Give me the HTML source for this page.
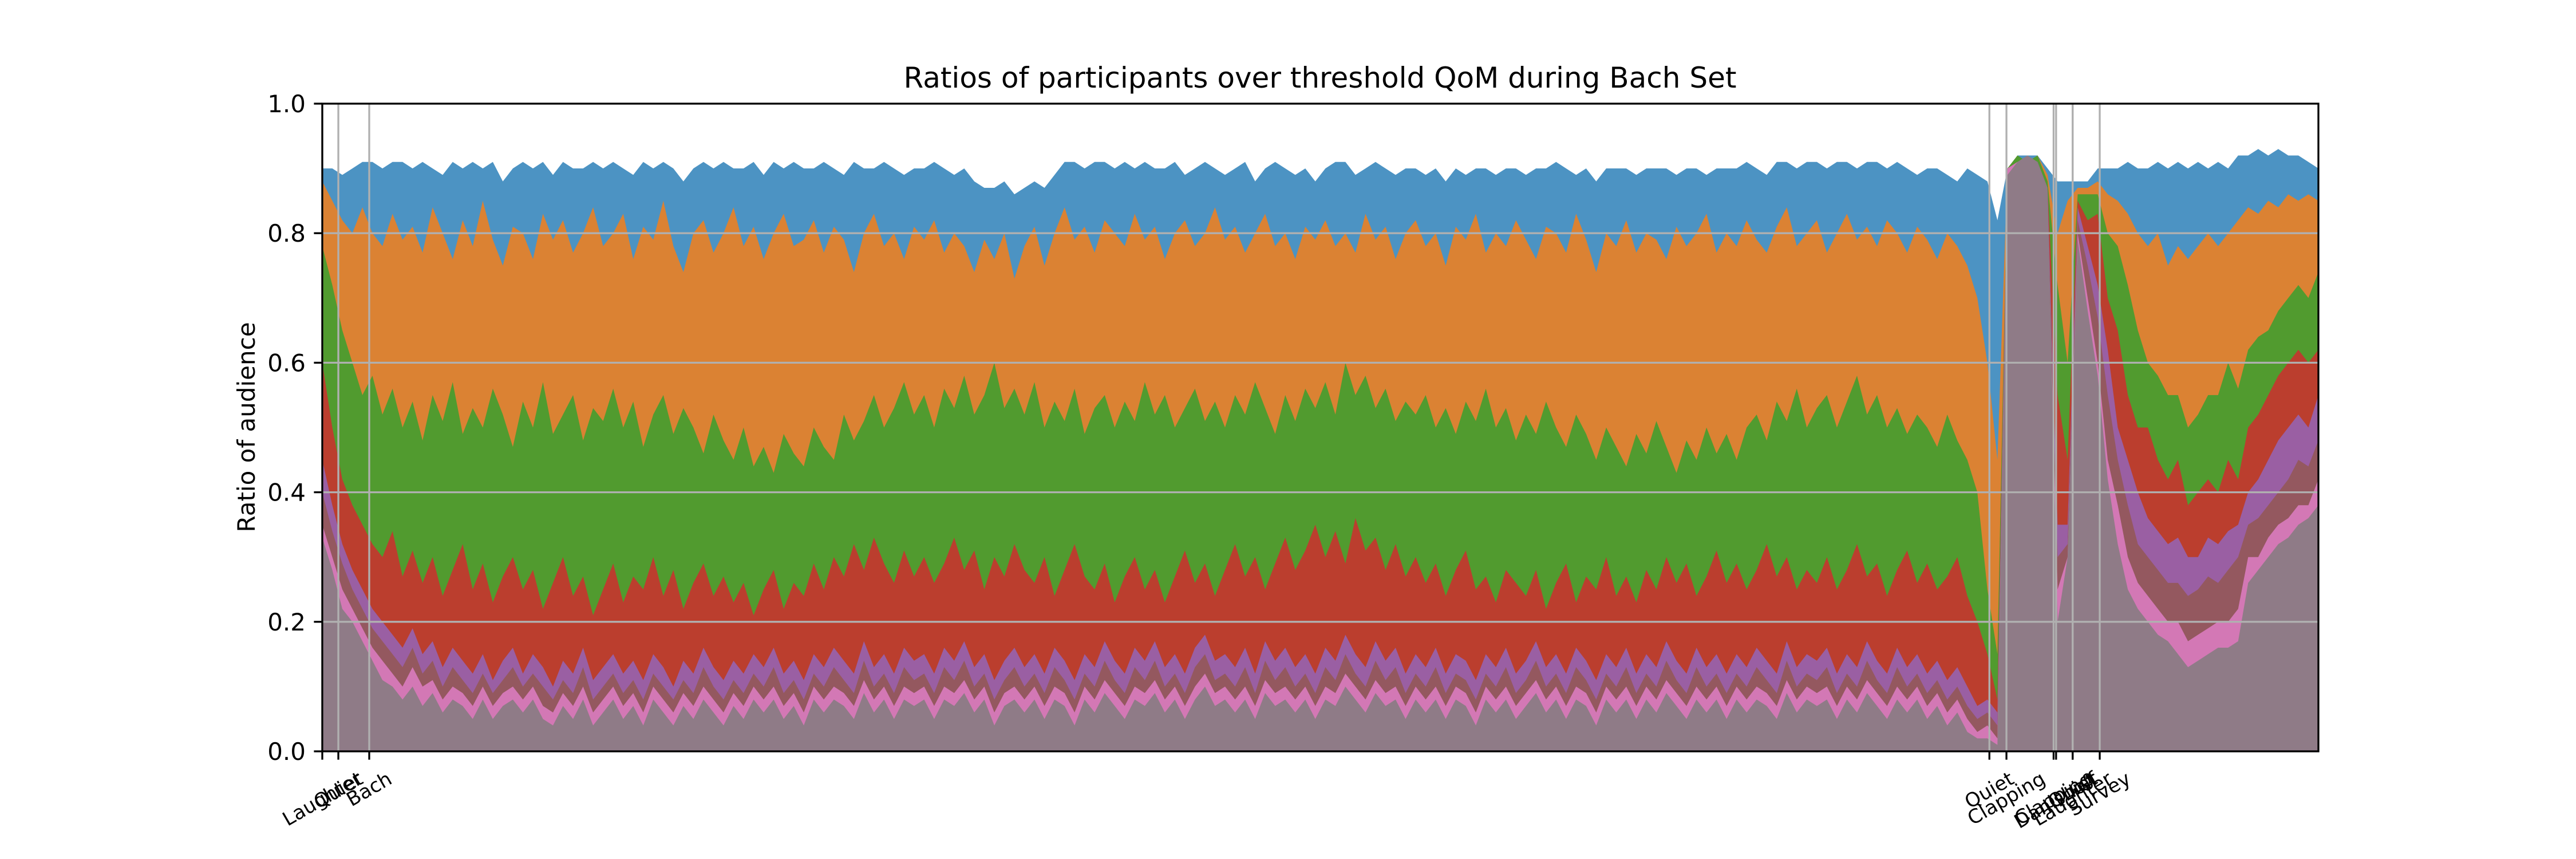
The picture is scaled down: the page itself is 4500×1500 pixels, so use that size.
<!DOCTYPE html>
<html><head><meta charset="utf-8"><style>
html,body{margin:0;padding:0;background:#fff;}
svg{display:block;font-family:"DejaVu Sans","Liberation Sans",sans-serif;}
</style></head><body>
<svg id="chart" width="4500" height="1500" viewBox="0 0 4500 1500" xmlns="http://www.w3.org/2000/svg">
<rect width="4500" height="1500" fill="#fff"/>
<text x="2306" y="153" font-size="50" text-anchor="middle">Ratios of participants over threshold QoM during Bach Set</text>
<text x="0" y="0" font-size="42" text-anchor="middle" transform="translate(445,746) rotate(-90)">Ratio of audience</text>
<g id="areas"></g>
<g id="grid"></g>
<g id="events"></g>
<g id="axes"></g>
</svg>
<script>
const blue=[.9,.9,.89,.9,.91,.91,.9,.91,.91,.9,.91,.9,.89,.91,.9,.91,.9,.91,.88,.9,.91,.9,.91,.89,.91,.9,.9,.91,.9,.91,.9,.89,.91,.9,.91,.9,.88,.9,.91,.9,.91,.9,.9,.91,.89,.91,.9,.91,.9,.9,.91,.9,.89,.91,.9,.9,.91,.9,.89,.9,.9,.91,.9,.89,.9,.88,.87,.87,.88,.86,.87,.88,.87,.89,.91,.91,.9,.91,.91,.9,.91,.9,.91,.9,.9,.91,.89,.9,.91,.9,.89,.9,.91,.88,.9,.91,.9,.89,.9,.88,.9,.91,.91,.89,.9,.91,.9,.89,.9,.9,.89,.9,.88,.9,.89,.9,.9,.89,.9,.9,.89,.9,.9,.91,.9,.89,.9,.88,.9,.9,.9,.89,.9,.9,.9,.89,.9,.9,.89,.9,.9,.9,.91,.9,.89,.91,.91,.9,.91,.91,.9,.91,.91,.9,.91,.91,.9,.91,.9,.89,.9,.9,.89,.88,.9,.89,.88,.82,.9,.92,.92,.92,.9,.88,.88,.88,.88,.9,.9,.9,.91,.9,.9,.91,.9,.91,.9,.91,.9,.91,.9,.92,.92,.93,.92,.93,.92,.92,.91,.9];
const orange=[.88,.85,.82,.8,.84,.8,.78,.83,.79,.81,.77,.84,.8,.76,.82,.78,.85,.79,.75,.81,.8,.76,.83,.79,.82,.77,.8,.84,.78,.8,.83,.76,.81,.79,.85,.78,.74,.8,.82,.77,.8,.84,.78,.81,.76,.8,.83,.78,.79,.82,.77,.81,.79,.74,.8,.83,.78,.8,.76,.81,.79,.82,.77,.8,.78,.74,.79,.76,.8,.73,.78,.81,.75,.8,.84,.79,.81,.77,.82,.8,.78,.83,.79,.81,.76,.8,.82,.78,.8,.84,.79,.81,.77,.8,.83,.78,.8,.76,.81,.79,.82,.78,.8,.77,.83,.79,.81,.76,.8,.82,.78,.8,.75,.81,.79,.83,.77,.8,.78,.82,.79,.76,.81,.8,.77,.83,.79,.74,.8,.78,.82,.77,.8,.79,.76,.81,.78,.8,.83,.77,.8,.78,.82,.79,.77,.81,.84,.78,.8,.82,.77,.8,.83,.79,.81,.78,.82,.8,.77,.81,.79,.76,.8,.78,.75,.7,.6,.45,.9,.92,.91,.92,.89,.8,.85,.87,.87,.88,.86,.85,.83,.8,.78,.8,.75,.78,.76,.78,.8,.78,.8,.82,.84,.83,.85,.84,.86,.85,.86,.85];
const green=[.78,.72,.65,.6,.55,.58,.52,.56,.5,.54,.48,.55,.51,.57,.49,.53,.5,.56,.52,.47,.54,.5,.57,.49,.52,.55,.48,.53,.51,.56,.5,.54,.47,.52,.55,.49,.53,.5,.46,.52,.48,.45,.5,.44,.47,.43,.49,.46,.44,.5,.47,.45,.52,.48,.51,.55,.5,.53,.57,.52,.55,.5,.56,.53,.58,.52,.55,.6,.53,.56,.52,.57,.5,.54,.51,.56,.49,.53,.55,.5,.54,.51,.57,.52,.55,.5,.53,.56,.51,.54,.5,.55,.52,.57,.53,.49,.55,.51,.56,.53,.57,.52,.6,.55,.58,.53,.56,.51,.54,.52,.55,.5,.53,.49,.54,.51,.56,.5,.53,.48,.52,.49,.54,.5,.47,.52,.49,.45,.5,.47,.44,.49,.46,.51,.47,.43,.48,.45,.5,.46,.49,.45,.5,.52,.48,.54,.51,.56,.5,.53,.55,.5,.54,.58,.52,.55,.5,.53,.49,.52,.5,.47,.52,.48,.45,.4,.25,.15,.9,.92,.91,.92,.88,.72,.6,.86,.86,.86,.8,.78,.72,.65,.6,.58,.55,.55,.5,.52,.55,.55,.6,.56,.62,.64,.65,.68,.7,.72,.7,.74];
const red=[.6,.5,.42,.38,.35,.32,.3,.34,.27,.31,.26,.3,.24,.28,.32,.25,.29,.23,.27,.3,.25,.28,.22,.26,.3,.24,.27,.21,.25,.29,.23,.27,.25,.3,.24,.28,.22,.26,.29,.24,.27,.23,.26,.21,.25,.28,.22,.26,.24,.29,.25,.3,.27,.32,.28,.33,.29,.26,.31,.27,.3,.26,.29,.33,.28,.31,.25,.3,.27,.32,.28,.26,.3,.24,.28,.32,.27,.25,.29,.23,.27,.3,.25,.28,.23,.27,.31,.26,.29,.24,.28,.32,.27,.3,.25,.29,.33,.28,.31,.35,.3,.34,.29,.36,.31,.33,.28,.32,.27,.3,.26,.29,.24,.28,.31,.25,.27,.23,.28,.26,.24,.28,.22,.26,.29,.23,.27,.25,.3,.24,.27,.23,.28,.25,.3,.26,.29,.24,.27,.31,.26,.29,.25,.28,.32,.27,.3,.25,.28,.26,.3,.25,.28,.32,.27,.29,.24,.28,.31,.26,.29,.25,.27,.3,.24,.2,.15,.08,.9,.91,.9,.91,.87,.55,.45,.85,.82,.83,.7,.65,.55,.5,.5,.45,.42,.45,.38,.4,.42,.4,.45,.42,.5,.52,.55,.58,.6,.62,.6,.62];
const purple=[.45,.38,.32,.28,.25,.22,.2,.18,.16,.19,.15,.17,.13,.16,.14,.12,.15,.11,.14,.16,.12,.15,.13,.1,.14,.12,.16,.11,.13,.15,.12,.14,.11,.15,.13,.1,.14,.12,.16,.13,.11,.14,.12,.15,.13,.16,.12,.14,.11,.15,.13,.16,.14,.12,.17,.13,.15,.12,.16,.14,.15,.12,.16,.14,.17,.13,.15,.11,.14,.16,.13,.15,.12,.16,.14,.11,.15,.13,.17,.14,.12,.16,.14,.17,.13,.15,.12,.16,.18,.14,.15,.13,.16,.12,.17,.14,.16,.13,.15,.12,.16,.14,.18,.15,.13,.17,.14,.16,.12,.15,.13,.16,.12,.15,.14,.11,.15,.13,.16,.12,.14,.17,.13,.15,.12,.16,.14,.11,.15,.13,.16,.12,.15,.13,.17,.14,.12,.16,.13,.15,.12,.15,.13,.16,.14,.12,.17,.13,.15,.14,.16,.12,.15,.13,.17,.14,.12,.16,.13,.15,.12,.14,.11,.13,.1,.07,.08,.06,.9,.91,.9,.91,.87,.35,.35,.84,.78,.72,.62,.5,.45,.4,.36,.34,.32,.33,.3,.3,.33,.32,.34,.35,.4,.42,.45,.48,.5,.52,.5,.55];
const brown=[.4,.34,.29,.25,.22,.19,.17,.15,.13,.16,.12,.14,.1,.13,.11,.09,.12,.09,.11,.13,.1,.12,.1,.08,.11,.09,.13,.08,.1,.12,.09,.11,.08,.12,.1,.08,.11,.09,.13,.1,.08,.11,.09,.12,.1,.13,.09,.11,.08,.12,.1,.13,.11,.09,.14,.1,.12,.09,.13,.11,.12,.09,.13,.11,.14,.1,.12,.08,.11,.13,.1,.12,.09,.13,.11,.08,.12,.1,.14,.11,.09,.13,.11,.14,.1,.12,.09,.13,.15,.11,.12,.1,.13,.09,.14,.11,.13,.1,.12,.09,.13,.11,.15,.12,.1,.14,.11,.13,.09,.12,.1,.13,.09,.12,.11,.08,.12,.1,.13,.09,.11,.14,.1,.12,.09,.13,.11,.08,.12,.1,.13,.09,.12,.1,.14,.11,.09,.13,.1,.12,.09,.12,.1,.13,.11,.09,.14,.1,.12,.11,.13,.09,.12,.1,.14,.11,.09,.13,.1,.12,.09,.11,.08,.1,.07,.05,.06,.04,.9,.91,.9,.91,.86,.3,.32,.82,.75,.67,.55,.45,.38,.32,.3,.28,.26,.26,.24,.25,.27,.26,.28,.3,.35,.36,.38,.4,.42,.45,.44,.48];
const pink=[.35,.3,.25,.22,.19,.16,.14,.12,.1,.13,.1,.11,.08,.1,.09,.07,.1,.07,.09,.1,.08,.1,.07,.06,.09,.07,.1,.06,.08,.1,.07,.09,.06,.1,.08,.06,.09,.07,.1,.08,.06,.09,.07,.1,.08,.1,.07,.09,.06,.1,.08,.1,.09,.07,.11,.08,.1,.07,.1,.09,.1,.07,.1,.09,.11,.08,.1,.06,.09,.1,.08,.1,.07,.1,.09,.06,.1,.08,.11,.09,.07,.1,.09,.11,.08,.1,.07,.1,.12,.09,.1,.08,.1,.07,.11,.09,.1,.08,.1,.07,.1,.09,.12,.1,.08,.11,.09,.1,.07,.1,.08,.1,.07,.1,.09,.06,.1,.08,.1,.07,.09,.11,.08,.1,.07,.1,.09,.06,.1,.08,.1,.07,.1,.08,.11,.09,.07,.1,.08,.1,.07,.1,.08,.1,.09,.07,.11,.08,.1,.09,.1,.07,.1,.08,.11,.09,.07,.1,.08,.1,.07,.09,.06,.08,.05,.03,.04,.02,.9,.91,.9,.91,.85,.25,.3,.8,.7,.6,.45,.38,.3,.26,.24,.22,.2,.2,.17,.18,.19,.2,.2,.22,.3,.3,.33,.35,.36,.38,.38,.42];
const gray=[.33,.28,.22,.2,.17,.14,.11,.1,.08,.1,.07,.09,.06,.08,.07,.05,.08,.05,.07,.08,.06,.08,.05,.04,.07,.05,.08,.04,.06,.08,.05,.07,.04,.08,.06,.04,.07,.05,.08,.06,.04,.07,.05,.08,.06,.08,.05,.07,.04,.08,.06,.08,.07,.05,.09,.06,.08,.05,.08,.07,.08,.05,.08,.07,.09,.06,.08,.04,.07,.08,.06,.08,.05,.08,.07,.04,.08,.06,.09,.07,.05,.08,.07,.09,.06,.08,.05,.08,.1,.07,.08,.06,.08,.05,.09,.07,.08,.06,.08,.05,.08,.07,.1,.08,.06,.09,.07,.08,.05,.08,.06,.08,.05,.08,.07,.04,.08,.06,.08,.05,.07,.09,.06,.08,.05,.08,.07,.04,.08,.06,.08,.05,.08,.06,.09,.07,.05,.08,.06,.08,.05,.08,.06,.08,.07,.05,.09,.06,.08,.07,.08,.05,.08,.06,.09,.07,.05,.08,.06,.08,.05,.07,.04,.06,.03,.02,.02,.01,.89,.91,.92,.91,.87,.2,.3,.79,.68,.58,.42,.32,.25,.22,.2,.18,.17,.15,.13,.14,.15,.16,.16,.17,.26,.28,.3,.32,.33,.35,.36,.38];
const eventLabels=["Laughter","Quiet","Bach","Quiet","Clapping","Clapping","Danishoff","Laughter","Quiet","Survey"];
const eventPositions=[0,1.6,4.68,166.2,167.9,172.6,172.85,174.5,174.5,177.2];
const yTicks=[0,0.2,0.4,0.6,0.8,1.0];
const yTickLabels=["0.0","0.2","0.4","0.6","0.8","1.0"];

const NS="http://www.w3.org/2000/svg";
const L=563,R=4050,T=181,B=1312;
const N=blue.length;
const xs=i=>L+(R-L)*i/(N-1);
const ys=v=>B-(B-T)*v;
function mk(tag,attrs,parent){const e=document.createElementNS(NS,tag);for(const k in attrs)e.setAttribute(k,attrs[k]);parent.appendChild(e);return e;}

const areas=document.getElementById('areas');
const series=[["blue",blue,"#4c93c3"],["orange",orange,"#db8233"],["green",green,"#519b2f"],["red",red,"#bb3e2e"],["purple",purple,"#9a5fa3"],["brown",brown,"#94585f"],["pink",pink,"#d378b5"],["gray",gray,"#8f7b87"]];
series.forEach(([nm,arr,col])=>{
  let d="M"+xs(0)+","+ys(0);
  arr.forEach((v,i)=>{d+=" L"+xs(i).toFixed(1)+","+ys(v).toFixed(1);});
  d+=" L"+xs(arr.length-1)+","+ys(0)+" Z";
  const p=mk('path',{d:d,fill:col},areas);
  
  
});

const grid=document.getElementById('grid');
yTicks.forEach(t=>{
  if(t===0||t===1)return;
  const l=mk('line',{x1:L,x2:R,y1:ys(t),y2:ys(t),stroke:"#b0b0b0","stroke-width":3.3},grid);
  
  
});

const ev=document.getElementById('events');
const axes=document.getElementById('axes');
eventPositions.forEach((p,i)=>{
  const x=xs(p);
  const l=mk('line',{x1:x,x2:x,y1:T,y2:B,stroke:"#b0b0b0","stroke-width":3.3},ev);
  
  
  const tk=mk('line',{x1:x,x2:x,y1:B,y2:B+14.6,stroke:"#000","stroke-width":3.3},axes);
  
  
  const t=mk('text',{x:0,y:0,"font-size":34,"text-anchor":"middle","dominant-baseline":"central"},axes);
  t.textContent=eventLabels[i];
  
  
  const len=t.getComputedTextLength();
  const fh=40;
  const h=len*0.5+fh*0.866;
  t.setAttribute('transform','translate('+x+','+(1340+h/2)+') rotate(-30)');
});

yTicks.forEach((t,i)=>{
  const y=ys(t);
  const tk=mk('line',{x1:L-14.6,x2:L,y1:y,y2:y,stroke:"#000","stroke-width":3.3},axes);
  
  
  const tx=mk('text',{x:L-29,y:y+15,"font-size":42,"text-anchor":"end"},axes);
  tx.textContent=yTickLabels[i];
  
  
});
const fr=mk('rect',{x:L,y:T,width:R-L,height:B-T,fill:"none",stroke:"#000","stroke-width":3.3},axes);


</script>
</body></html>
